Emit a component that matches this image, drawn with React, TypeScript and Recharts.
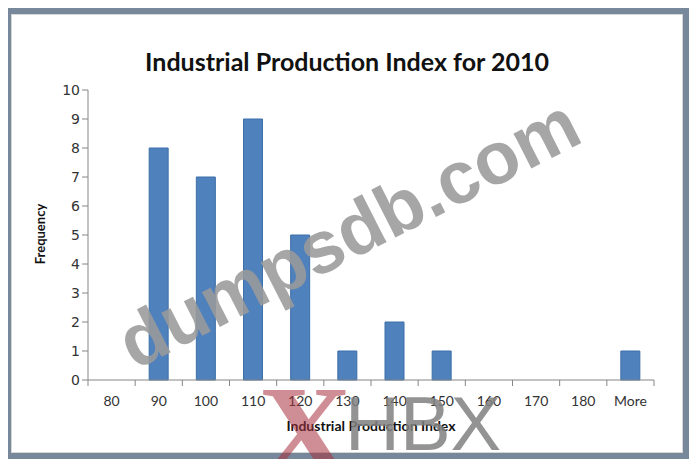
import React from 'react';
import { BarChart, Bar, XAxis, YAxis } from 'recharts';

// histogram bins and counts
const bins = ['80', '90', '100', '110', '120', '130', '140', '150', '160', '170', '180', 'More'];
const frequency = [0, 8, 7, 9, 5, 1, 2, 1, 0, 0, 0, 1];
const yTicks = [0, 1, 2, 3, 4, 5, 6, 7, 8, 9, 10];

const data = bins.map((bin, i) => ({ bin, freq: frequency[i] }));

const AXIS = '#868686';

// label at band center, tick marks at band edges (Excel style)
const BinTick = (props: any) => {
  const { x, y, payload, index } = props;
  const half = payload && payload.offset ? payload.offset : 23.6;
  return (
    <g>
      <line x1={x - half} y1={y - 8} x2={x - half} y2={y - 2} stroke={AXIS} />
      {index === bins.length - 1 && (
        <line x1={x + half} y1={y - 8} x2={x + half} y2={y - 2} stroke={AXIS} />
      )}
      <text x={x} y={y + 18} textAnchor="middle" fontSize={14} fill="#333" fontFamily="Lato">
        {payload.value}
      </text>
    </g>
  );
};

export default function App() {
  return (
    <div style={{ margin: -8, width: 697, height: 467, background: '#76889a', position: 'relative', overflow: 'hidden' }}>
      <div style={{ position: 'absolute', left: 11, top: 14, width: 670, height: 437, background: '#fff', border: '1px solid #d6d6d6' }}>
        <div style={{ position: 'absolute', left: 0, top: 31, width: 670, textAlign: 'center', fontFamily: 'Lato', fontWeight: 700, fontSize: 25, color: '#111' }}>
          Industrial Production Index for 2010
        </div>
        <BarChart width={670} height={438} data={data} margin={{ top: 75, right: 28, left: 0, bottom: 0 }}>
          <YAxis
            width={76}
            domain={[0, 10]}
            ticks={yTicks}
            interval={0}
            axisLine={{ stroke: AXIS }}
            tickLine={{ stroke: AXIS }}
            tickSize={6}
            tick={{ fontSize: 14, fill: '#333', fontFamily: 'DejaVu Sans' }}
          />
          <XAxis
            dataKey="bin"
            height={73}
            interval={0}
            axisLine={{ stroke: AXIS }}
            tickLine={false}
            tick={<BinTick />}
          />
          <Bar dataKey="freq" fill="#4f81bd" stroke="#3d6fa8" barSize={19} isAnimationActive={false} />
        </BarChart>
        <div style={{ position: 'absolute', left: 20, top: 219, transform: 'rotate(-90deg)', transformOrigin: 'left top', fontFamily: 'Lato', fontWeight: 700, fontSize: 13, color: '#111', whiteSpace: 'nowrap' }}>
          <span style={{ display: 'inline-block', transform: 'translateX(-50%)' }}>Frequency</span>
        </div>
        <div style={{ position: 'absolute', left: 76, top: 402, width: 566, textAlign: 'center', fontFamily: 'Lato', fontWeight: 700, fontSize: 14, color: '#111' }}>
          Industrial Production Index
        </div>
      </div>
      {/* watermarks over the picture */}
      <svg width={697} height={467} style={{ position: 'absolute', left: 0, top: 0, pointerEvents: 'none' }}>
        <text
          x={350}
          y={258}
          textAnchor="middle"
          transform="rotate(-27 350 236)"
          fontFamily="Liberation Sans"
          fontWeight={700}
          fontSize={74}
          fill="#9a9a9a"
          fillOpacity={0.88}
        >
          dumpsdb.com
        </text>
        <text x={305} y={475} textAnchor="middle" fontFamily="Liberation Serif" fontWeight={700} fontSize={130} fill="#a8323e" fillOpacity={0.55}>
          X
        </text>
        <text x={345} y={450} fontFamily="Liberation Sans" fontSize={76} fill="#808080" fillOpacity={0.85}>
          HBX
        </text>
      </svg>
    </div>
  );
}
